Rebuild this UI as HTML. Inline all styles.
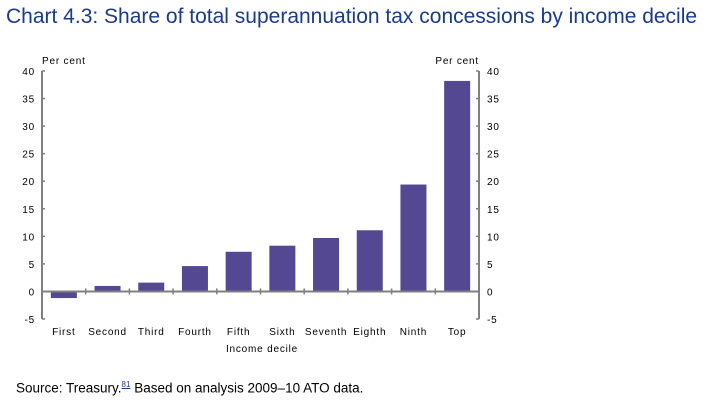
<!DOCTYPE html>
<html><head><meta charset="utf-8"><style>
body{margin:0;background:#fff;width:702px;height:400px;overflow:hidden;font-family:"Liberation Sans",Arial,sans-serif}
#title{position:absolute;left:6px;top:5px;font-size:21px;color:#1a3a8c;white-space:nowrap}
#src{position:absolute;left:16px;top:380px;font-size:13.5px;color:#000;white-space:nowrap}
#src sup{font-size:8px;color:#1a3a8c;text-decoration:underline}
svg{position:absolute;left:0;top:0}
svg text{font-family:"Liberation Sans",Arial,sans-serif;font-size:10px;fill:#000;letter-spacing:0.8px}
</style></head><body>
<div id="title">Chart 4.3: Share of total superannuation tax concessions by income decile</div>
<svg id="chart" width="702" height="400"></svg>
<div id="src">Source: Treasury.<sup>81</sup> Based on analysis 2009–10 ATO data.</div>
<script>
const categories=["First","Second","Third","Fourth","Fifth","Sixth","Seventh","Eighth","Ninth","Top"];
const values=[-1.2,1.0,1.6,4.6,7.2,8.3,9.7,11.1,19.4,38.2];
const ticks=[40,35,30,25,20,15,10,5,0,-5];
const NS="http://www.w3.org/2000/svg";
const svg=document.getElementById('chart');
const x0=42,x1=479,yTop=71,yBot=319,vMax=40,vMin=-5;
const y=v=>yTop+(vMax-v)*(yBot-yTop)/(vMax-vMin);
const bw=(x1-x0)/categories.length;
const xc=i=>x0+bw*(i+0.5);
function el(t,a){const e=document.createElementNS(NS,t);for(const k in a)e.setAttribute(k,a[k]);svg.appendChild(e);return e;}
const gray="#808080";
values.forEach((v,i)=>{
 const r=el('rect',{x:xc(i)-13,y:Math.min(y(v),y(0)),width:26,height:Math.abs(y(v)-y(0)),fill:'#534891'});
 
 
});
let a=el('line',{x1:x0,y1:yTop,x2:x0,y2:yBot,stroke:gray,'stroke-width':2});

a=el('line',{x1:x1,y1:yTop,x2:x1,y2:yBot,stroke:gray,'stroke-width':2});

a=el('line',{x1:x0,y1:y(0),x2:x1,y2:y(0),stroke:gray,'stroke-width':2});

for(let i=1;i<categories.length;i++){el('line',{x1:x0+bw*i,y1:y(0)-3,x2:x0+bw*i,y2:y(0)+3,stroke:gray,'stroke-width':1.5});}
ticks.forEach(t=>{
 el('line',{x1:x0,y1:y(t),x2:x0+3,y2:y(t),stroke:gray,'stroke-width':1.5});
 el('line',{x1:x1-3,y1:y(t),x2:x1,y2:y(t),stroke:gray,'stroke-width':1.5});
 const l=el('text',{x:35,y:y(t)+4,'text-anchor':'end'});l.textContent=t;
 
 const r=el('text',{x:487,y:y(t)+4});r.textContent=t;
 
});
categories.forEach((c,i)=>{
 const t=el('text',{x:xc(i),y:335,'text-anchor':'middle'});t.textContent=c;
 
});
let t=el('text',{x:262,y:352,'text-anchor':'middle'});t.textContent='Income decile';

t=el('text',{x:42,y:64});t.textContent='Per cent';

t=el('text',{x:479,y:64,'text-anchor':'end'});t.textContent='Per cent';

</script>
</body></html>
